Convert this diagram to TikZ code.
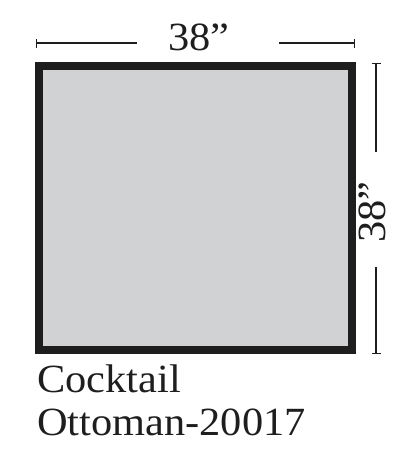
\documentclass[tikz,border=0pt]{standalone}
\usepackage{fontspec}
\setmainfont{Liberation Serif}[FakeStretch=1.06]
\usetikzlibrary{arrows.meta}
\definecolor{seatgray}{RGB}{208,210,211}
\definecolor{framedark}{RGB}{30,30,30}
\tikzset{
  dim/.style={line width=1.4pt, draw=framedark},
  lbl/.style={inner sep=0pt, text=framedark, font=\fontsize{40}{48}\selectfont},
}
\begin{document}
\begin{tikzpicture}[x=1pt,y=-1pt]
        \useasboundingbox (0,0) rectangle (418,458);
        %%%%%%%%%% Pianta %%%%%%%%%%
        \node[draw=framedark, fill=seatgray, line width=8pt, minimum width=313pt, minimum height=284pt, inner sep=0pt] (box) at (195.5,208) {};

        %%%%%%%%%% Quote %%%%%%%%%%
        \node[lbl, anchor=base] (wdt) at (199,50) {38”};
        \node[lbl, anchor=base, rotate=90] (hgt) at (385,212) {38”};
        \coordinate (w1) at (36,43);
        \coordinate (w2) at (137,43);
        \coordinate (w3) at (279,43);
        \coordinate (w4) at (355,43);
        \coordinate (h1) at (376,63);
        \coordinate (h2) at (376,152);
        \coordinate (h3) at (376,267);
        \coordinate (h4) at (376,354);
        \draw[dim, {Bar[width=9pt]}-] (w1) -- (w2);
        \draw[dim, -{Bar[width=9pt]}] (w3) -- (w4);
        \draw[dim, {Bar[width=9pt]}-] (h1) -- (h2);
        \draw[dim, -{Bar[width=9pt]}] (h3) -- (h4);

        %%%%%%%%%% Nome %%%%%%%%%%
        \node[lbl, anchor=base west] (name1) at (37,392) {Cocktail};
        \node[lbl, anchor=base west] (name2) at (37,435) {Ottoman-20017};
    \end{tikzpicture}
\end{document}
